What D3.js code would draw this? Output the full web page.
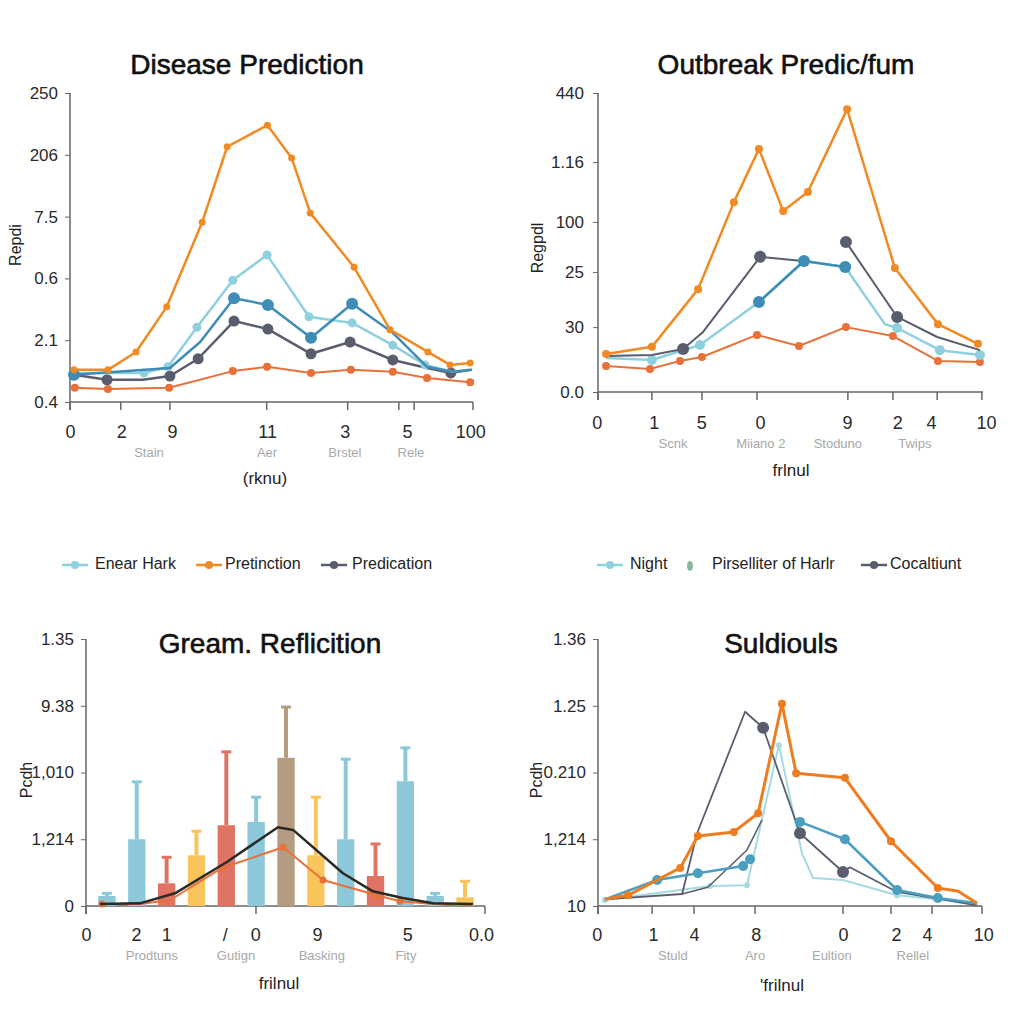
<!DOCTYPE html>
<html><head><meta charset="utf-8">
<script src="https://cdn.jsdelivr.net/npm/d3@7"></script>
<style>body{margin:0;background:#fff}svg text{font-family:"Liberation Sans",Arial,sans-serif}</style>
</head><body><svg id="c" width="1024" height="1024"></svg>
<script>
// ---------- Panel 1: Disease Prediction ----------
const p1YTicks = [0,1,2,3,4,5];
const p1YLabels = ["0.4","2.1","0.6","7.5","206","250"];
const p1XLabelVals = [0,12.7,25.3,48.9,68.2,83.6,99.3];
const p1XLabels = ["0","2","9","11","3","5","100"];
const p1XMarks = [0,12.6,24.8,48.8,68.9,81.6,85.4,100];
const p1CatVals = [19.6,48.9,68.2,84.6];
const p1Cats = ["Stain","Aer","Brstel","Rele"];
const p1OrangeX = [1,9.4,16.4,24,32.8,39,49,55,59.6,70.5,79.4,88.8,94.3,99.3];
const p1OrangeV = [0.52,0.52,0.81,1.54,2.91,4.13,4.48,3.95,3.06,2.18,1.17,0.81,0.60,0.63];
const p1SkyX = [1,18.4,24.3,31.5,40.4,48.9,59.3,70,80.1,88.1,94.8,99.3];
const p1SkyV = [0.47,0.47,0.57,1.21,1.97,2.38,1.38,1.28,0.92,0.60,0.49,0.52];
const p1SteelX = [1,24.8,32.3,40.7,49.1,59.8,70,80.1,88.6,94.8,99.8];
const p1SteelV = [0.44,0.55,0.97,1.68,1.57,1.04,1.59,1.12,0.57,0.49,0.52];
const p1GrayX = [1,9.2,18.1,24.8,31.8,40.7,49.1,59.8,69.5,80.1,88.6,94.5,99.3];
const p1GrayV = [0.44,0.36,0.36,0.42,0.70,1.31,1.18,0.78,0.97,0.68,0.55,0.47,0.52];
const p1LowX = [1.2,9.4,24.6,40.4,48.9,59.8,69.7,80.1,88.6,99.3];
const p1LowV = [0.23,0.21,0.23,0.50,0.57,0.47,0.52,0.49,0.39,0.32];

// ---------- Panel 2: Outbreak ----------
const p2YTicks = [0,21.7,40.1,56.9,76.9,100];
const p2YLabels = ["0.0","30","25","100","1.16","440"];
const p2XLabelVals = [-0.3,14.5,26.8,42.1,64.7,77.7,86.5,100.8];
const p2XLabels = ["0","1","5","0","9","2","4","10"];
const p2XMarks = [0,14,27,41.3,64.9,76.6,88.1,99.7];
const p2CatVals = [19.5,42.3,62.3,82.3];
const p2Cats = ["Scnk","Miiano 2","Stoduno","Twips"];
const p2OrangeX = [2.1,14,26,35.3,41.8,48.1,54.5,64.7,77.1,88.3,98.7];
const p2OrangeV = [12.7,15.1,34.4,63.5,81.3,60.5,66.9,94.6,41.5,22.7,16.1];
const p2GrayX = [2.1,14,22.1,27.3,42.1,53.2,58,64.4,77.7,88.1,99.2];
const p2GrayV = [12.0,12.4,14.4,20.1,45.2,43.8,null,50.2,25.1,18.4,14.0];
const p2SkyX = [2.1,14,26.5,41.8,53.5,64.2,74.5,77.7,88.8,99.2];
const p2SkyV = [11.4,10.7,15.7,30.1,43.8,41.8,22.7,21.4,14.0,12.4];
const p2SteelX = [41.8,53.5,64.2];
const p2SteelV = [30.1,43.8,41.8];
const p2LowX = [2.1,13.5,21.3,27,41.3,52.2,64.4,76.6,88.3,99.2];
const p2LowV = [8.7,7.7,10.4,11.7,19.1,15.4,21.7,18.7,10.4,10.0];

// ---------- Panel 3: Gream. Reflicition ----------
const p3YTicks = [0,1,2,3,4];
const p3YLabels = ["0","1,214","1,010","9.38","1.35"];
const p3XLabelVals = [0,12.5,20.1,34.8,42.4,57.9,80.5,99];
const p3XLabels = ["0","2","1","/","0","9","5","0.0"];
const p3XMarks = [0,42.6,100];
const p3CatVals = [16.5,37.6,59.1,80.2];
const p3Cats = ["Prodtuns","Gutign","Basking","Fity"];
const p3Bars = ["g1","g2","g3","g4","g5","g6","g7","g8","g9","g10","g11","g12","g13"];
const p3BarV = [0.15,1.00,0.34,0.76,1.21,1.26,2.22,0.76,1.00,0.45,1.87,0.15,0.13];
const p3BarErr = [0.19,1.86,0.73,1.12,2.31,1.63,2.98,1.63,2.20,0.93,2.37,0.19,0.37];
const p3BarKind = ["sky","sky","red","yellow","red","sky","tan","yellow","sky","red","sky","sky","yellow"];
const p3BlackX = [3.5,13.5,22.3,35.3,48.1,51.9,64.4,71.9,79.4,87,97];
const p3BlackV = [0.03,0.04,0.19,0.66,1.18,1.14,0.49,0.22,0.12,0.04,0.03];
const p3OrangeX = [4,13.5,21.1,34.1,49.4,59.4,72.9,78.7,87,96.7];
const p3OrangeV = [0.03,0.03,0.09,0.57,0.88,0.39,0.16,0.07,0.03,0.01];

// ---------- Panel 4: Suldiouls ----------
const p4YTicks = [0,1,2,3,4];
const p4YLabels = ["10","1,214","0.210","1.25","1.36"];
const p4XLabelVals = [-0.3,14.3,25,41.1,63.8,77.6,85.7,100.3];
const p4XLabels = ["0","1","4","8","0","2","4","10"];
const p4XMarks = [0,14.1,25,40.9,63.8,76.3,87,100];
const p4CatVals = [19.5,40.9,60.9,82];
const p4Cats = ["Stuld","Aro","Eultion","Rellel"];
const p4OrangeX = [1.8,7.8,15.4,21.4,26,35.4,41.7,47.9,51.6,64.3,76.3,88.5,93.8,98.7];
const p4OrangeV = [0.10,0.16,0.39,0.57,1.05,1.11,1.39,3.03,1.99,1.92,0.97,0.27,0.22,0.04];
const p4GrayX = [1.8,21.9,25.8,38.3,43,52.6,63.8,65.6,77.9,98.7];
const p4GrayV = [0.10,0.18,1.09,2.91,2.67,1.09,0.51,0.58,0.21,0.01];
const p4Gray2X = [21.9,28.6,38.8,42.7];
const p4Gray2V = [0.18,0.28,0.84,1.29];
const p4SkyX = [1.8,29.2,38.8,47.1,53.1,56,63.8,77.9,98.7];
const p4SkyV = [0.09,0.30,0.31,2.41,0.79,0.42,0.39,0.16,0.04];
const p4SteelX = [1.8,15.4,26,37.8,39.6,45,52.6,64.3,77.9,88.5,98.7];
const p4SteelV = [0.10,0.39,0.49,0.60,0.70,null,1.26,1.00,0.24,0.12,0.04];

// ---------- Legends ----------
const legendLeft = ["Enear Hark","Pretinction","Predication"];
const legendRight = ["Night","Pirselliter of Harlr","Cocaltiunt"];

// ---------- Colours ----------
const C = {orange:"#f08a24", low:"#e8713a", sky:"#8fd0de", steel:"#3f8db6", steel4:"#4a9fc0", gray:"#5a5d6e",
  bsky:"#8cc8da", red:"#e07464", yellow:"#f8c45c", tan:"#b39c80", black:"#2a2a24", lsky:"#a6dae3", green:"#8ab89a", orange4:"#ee7d22"};

const svg = d3.select("#c");

function frame(o) {
  const g = svg.append("g");
  const [x0, x1] = o.x.range();
  const [yb, yt] = o.y.range();
  g.append("text").attr("x", o.titleX).attr("y", o.titleY).attr("text-anchor","middle")
    .attr("dominant-baseline","middle").attr("font-size",28).attr("fill","#111")
    .attr("stroke","#111").attr("stroke-width",0.6).text(o.title);
  const ya = g.append("g").attr("transform",`translate(${x0},0)`)
    .call(d3.axisLeft(o.y).tickValues(o.yTicks).tickFormat((d,i)=>o.yLabels[i]).tickSize(5).tickPadding(o.yPad).tickSizeOuter(0));
  ya.select(".domain").remove();
  ya.selectAll("line").attr("stroke","#666");
  ya.selectAll("text").attr("font-size",17).attr("fill","#2a2a2a").attr("font-family","Liberation Sans, Arial");
  g.append("line").attr("x1",x0).attr("x2",x0).attr("y1",yt).attr("y2",yb+8).attr("stroke","#666").attr("stroke-width",1.5);
  g.append("line").attr("x1",x0).attr("x2",x1).attr("y1",yb).attr("y2",yb).attr("stroke","#666").attr("stroke-width",1.5);
  g.selectAll(".xm").data(o.xMarks).join("line").attr("x1",d=>o.x(d)).attr("x2",d=>o.x(d))
    .attr("y1",yb).attr("y2",yb+8).attr("stroke","#666").attr("stroke-width",1.5);
  const xa = g.append("g").attr("transform",`translate(0,${yb})`)
    .call(d3.axisBottom(o.x).tickValues(o.xLabelVals).tickFormat((d,i)=>o.xLabels[i]).tickSize(0).tickPadding(o.xPad));
  xa.select(".domain").remove();
  xa.selectAll("text").attr("font-size",18).attr("fill","#2a2a2a").attr("font-family","Liberation Sans, Arial");
  g.selectAll(".cat").data(o.cats).join("text").attr("x",(d,i)=>o.x(o.catVals[i])).attr("y",o.catY)
    .attr("text-anchor","middle").attr("dominant-baseline","middle").attr("font-size",13).attr("fill","#a8a8a8").text(d=>d);
  g.append("text").attr("x",o.xTitleX).attr("y",o.xTitleY).attr("text-anchor","middle").attr("dominant-baseline","middle")
    .attr("font-size",17).attr("fill","#222").text(o.xTitle);
  g.append("text").attr("transform",`translate(${o.yTitleX},${o.yTitleY}) rotate(-90)`).attr("text-anchor","middle")
    .attr("dominant-baseline","middle").attr("font-size",16).attr("fill","#222").text(o.yTitle);
}

function series(x, y, xs, vs, color, width, r, marks) {
  const pts = xs.map((d,i)=>({x:d, v:vs[i], i}));
  const line = d3.line().defined(d=>d.v!=null).x(d=>x(d.x)).y(d=>y(d.v));
  svg.append("path").datum(pts).attr("d",line).attr("fill","none").attr("stroke",color)
    .attr("stroke-width",width).attr("stroke-linejoin","round");
  if (r > 0) {
    const m = pts.filter(d=>d.v!=null && (!marks || marks.includes(d.i)));
    svg.selectAll(null).data(m).join("circle").attr("cx",d=>x(d.x)).attr("cy",d=>y(d.v)).attr("r",r).attr("fill",color);
  }
}

// ----- Panel 1 -----
const x1 = d3.scaleLinear().domain([0,100]).range([70,473]);
const y1 = d3.scaleLinear().domain([0,5]).range([402,93]);
frame({x:x1,y:y1,yTicks:p1YTicks,yLabels:p1YLabels,yPad:7,xLabelVals:p1XLabelVals,xLabels:p1XLabels,xMarks:p1XMarks,xPad:23,
  cats:p1Cats,catVals:p1CatVals,catY:454,title:"Disease Prediction",titleX:247,titleY:67,
  xTitle:"(rknu)",xTitleX:265,xTitleY:480,yTitle:"Repdi",yTitleX:17,yTitleY:245});
series(x1,y1,p1LowX,p1LowV,C.low,2,4);
series(x1,y1,p1GrayX,p1GrayV,C.gray,2.5,5.5,[0,1,3,4,5,6,7,8,9,11]);
series(x1,y1,p1SkyX,p1SkyV,C.sky,2.5,4.5,[1,2,3,4,5,6,7,8,9]);
series(x1,y1,p1SteelX,p1SteelV,C.steel,2.5,6,[0,3,4,5,6]);
series(x1,y1,p1OrangeX,p1OrangeV,C.orange,2.5,3.5);

// ----- Panel 2 -----
const x2 = d3.scaleLinear().domain([0,100]).range([598,983]);
const y2 = d3.scaleLinear().domain([0,100]).range([392,93]);
frame({x:x2,y:y2,yTicks:p2YTicks,yLabels:p2YLabels,yPad:9,xLabelVals:p2XLabelVals,xLabels:p2XLabels,xMarks:p2XMarks,xPad:24,
  cats:p2Cats,catVals:p2CatVals,catY:445,title:"Outbreak Predic/fum",titleX:786,titleY:67,
  xTitle:"frlnul",xTitleX:791,xTitleY:472,yTitle:"Regpdl",yTitleX:539,yTitleY:248});
series(x2,y2,p2LowX,p2LowV,C.low,2,4);
series(x2,y2,p2SkyX,p2SkyV,C.sky,2.5,5,[1,2,7,8,9]);
series(x2,y2,p2GrayX,p2GrayV,C.gray,2,6,[2,4,7,8]);
series(x2,y2,p2SteelX,p2SteelV,C.steel,2.5,6);
series(x2,y2,p2OrangeX,p2OrangeV,C.orange,2.5,4);

// ----- Panel 3 -----
const x3 = d3.scaleLinear().domain([0,100]).range([86,485]);
const y3 = d3.scaleLinear().domain([0,4]).range([906,639]);
const xb = d3.scaleBand().domain(p3Bars).range([92,480]).paddingInner(0.42).paddingOuter(0.21);
frame({x:x3,y:y3,yTicks:p3YTicks,yLabels:p3YLabels,yPad:7,xLabelVals:p3XLabelVals,xLabels:p3XLabels,xMarks:p3XMarks,xPad:22,
  cats:p3Cats,catVals:p3CatVals,catY:957,title:"Gream. Reflicition",titleX:270,titleY:646,
  xTitle:"frilnul",xTitleX:279,xTitleY:985,yTitle:"Pcdh",yTitleX:28,yTitleY:780});
const bw = xb.bandwidth();
const bars = p3Bars.map((d,i)=>({k:d, v:p3BarV[i], e:p3BarErr[i], c:C[p3BarKind[i]==="sky"?"bsky":p3BarKind[i]]}));
svg.selectAll(null).data(bars).join("line").attr("x1",d=>xb(d.k)+bw/2).attr("x2",d=>xb(d.k)+bw/2)
  .attr("y1",d=>y3(d.v)).attr("y2",d=>y3(d.e)).attr("stroke",d=>d.c).attr("stroke-width",4);
svg.selectAll(null).data(bars).join("line").attr("x1",d=>xb(d.k)+bw/2-5).attr("x2",d=>xb(d.k)+bw/2+5)
  .attr("y1",d=>y3(d.e)).attr("y2",d=>y3(d.e)).attr("stroke",d=>d.c).attr("stroke-width",3);
svg.selectAll(null).data(bars).join("rect").attr("x",d=>xb(d.k)).attr("width",bw)
  .attr("y",d=>y3(d.v)).attr("height",d=>y3(0)-y3(d.v)).attr("fill",d=>d.c);
series(x3,y3,p3OrangeX,p3OrangeV,C.low,2,3.5,[0,3,4,5,6,7]);
series(x3,y3,p3BlackX,p3BlackV,C.black,2.5,0);

// ----- Panel 4 -----
const x4 = d3.scaleLinear().domain([0,100]).range([598,982]);
const y4 = d3.scaleLinear().domain([0,4]).range([906,639]);
frame({x:x4,y:y4,yTicks:p4YTicks,yLabels:p4YLabels,yPad:7,xLabelVals:p4XLabelVals,xLabels:p4XLabels,xMarks:p4XMarks,xPad:22,
  cats:p4Cats,catVals:p4CatVals,catY:957,title:"Suldiouls",titleX:781,titleY:646,
  xTitle:"'frilnul",xTitleX:782,xTitleY:987,yTitle:"Pcdh",yTitleX:538,yTitleY:780});
series(x4,y4,p4SkyX,p4SkyV,C.lsky,2,3,[0,1,2,3,7]);
series(x4,y4,p4Gray2X,p4Gray2V,C.gray,1.5,0);
series(x4,y4,p4GrayX,p4GrayV,C.gray,1.8,6,[4,5,6]);
series(x4,y4,p4SteelX,p4SteelV,C.steel4,2.5,5,[1,2,3,4,6,7,8,9]);
series(x4,y4,p4OrangeX,p4OrangeV,C.orange4,3,4,[1,3,4,5,6,7,8,9,10,11]);

// ----- Legends -----
function legend(items, lx, tx, colors, y) {
  items.forEach((t,i)=>{
    if (colors[i] === "drop") {
      svg.append("ellipse").attr("cx",lx[i]).attr("cy",y+1).attr("rx",3).attr("ry",5).attr("fill",C.green);
    } else {
      svg.append("line").attr("x1",lx[i]-13).attr("x2",lx[i]+13).attr("y1",y).attr("y2",y).attr("stroke",colors[i]).attr("stroke-width",2.5);
      svg.append("circle").attr("cx",lx[i]).attr("cy",y).attr("r",4).attr("fill",colors[i]);
    }
    svg.append("text").attr("x",tx[i]).attr("y",y).attr("dominant-baseline","middle").attr("font-size",16).attr("fill","#222").text(t);
  });
}
legend(legendLeft,[75,209,334],[95,225,352],[C.sky,C.orange,C.gray],565);
legend(legendRight,[610,690,874],[630,712,890],[C.sky,"drop",C.gray],565);
</script></body></html>
